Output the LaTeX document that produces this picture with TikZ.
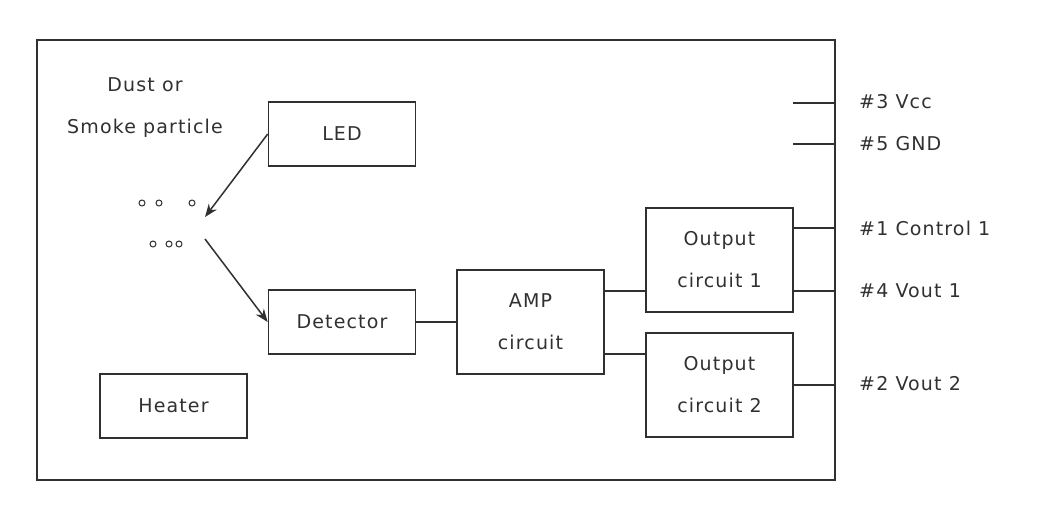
\documentclass[tikz,border=0pt]{standalone}
\usepackage{fontspec}
\setmainfont[LetterSpace=6]{DejaVu Sans}
\usetikzlibrary{arrows.meta}
\definecolor{ink}{HTML}{303030}
\begin{document}
\begin{tikzpicture}[x=1pt,y=-1pt,
  every node/.style={text=ink,font=\fontsize{19}{42}\selectfont},
  blk/.style={draw=ink,line width=1.6pt,minimum width=147pt,inner sep=0pt,align=center},
  wire/.style={draw=ink,line width=1.5pt},
  arr/.style={draw=ink,line width=1.5pt,-{Stealth[length=13pt,width=10pt]}},
  lbl/.style={anchor=west,inner sep=0pt},
  dot/.style={draw=ink,line width=1pt}]
\useasboundingbox (0,0) rectangle (1040,511);
\node[draw=ink,line width=1.6pt,minimum width=798pt,minimum height=440pt,inner sep=0pt] (frame) at (436,260) {};
% blocks
\node[blk,minimum height=64pt] (led) at (342,134) {LED};
\node[blk,minimum height=64pt] (det) at (342,322) {Detector};
\node[blk,minimum height=64pt] (heat) at (173.5,406) {Heater};
\node[blk,minimum height=104pt] (amp) at (530.5,322) {AMP\\circuit};
\node[blk,minimum height=104pt] (oc1) at (719.5,260) {Output\\circuit 1};
\node[blk,minimum height=104pt] (oc2) at (719.5,385) {Output\\circuit 2};
% particle text
\node[align=center,inner sep=0pt] (dust) at (145,108) {Dust or\\Smoke particle};
% particles
\foreach \x/\y [count=\i] in {142/203,159/203,192/203,153/244,169/244,179/244}
  \draw[dot] (\x,\y) circle (3pt);
\coordinate (s1) at (205,217);
\coordinate (s2) at (205,239);
\draw[arr] (led.west) -- (s1);
\draw[arr] (s2) -- (det.west);
% signal wires
\draw[wire] (det.east) -- (amp.west);
\coordinate (y1) at (625,291);
\coordinate (y2) at (625,354);
\draw[wire] (amp.east |- y1) -- (oc1.west |- y1);
\draw[wire] (amp.east |- y2) -- (oc2.west |- y2);
% pins
\coordinate (pvcc) at (793,103);
\coordinate (pgnd) at (793,144);
\coordinate (pc1) at (793,228);
\draw[wire] (pvcc) -- (frame.east |- pvcc);
\draw[wire] (pgnd) -- (frame.east |- pgnd);
\draw[wire] (oc1.east |- pc1) -- (frame.east |- pc1);
\draw[wire] (oc1.east |- y1) -- (frame.east |- y1);
\draw[wire] (oc2.east) -- (frame.east |- oc2.east);
\node[lbl] (l3) at (859,102) {\#3 Vcc};
\node[lbl] (l5) at (859,144) {\#5 GND};
\node[lbl] (l1) at (859,228) {\#1 Control 1};
\node[lbl] (l4) at (859,291) {\#4 Vout 1};
\node[lbl] (l2) at (859,384) {\#2 Vout 2};
\end{tikzpicture}
\end{document}
